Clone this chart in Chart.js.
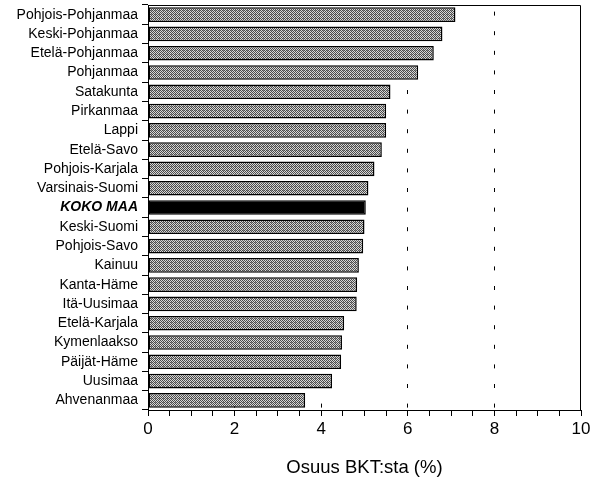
<!DOCTYPE html>
<html>
<head>
<meta charset="utf-8">
<script src="https://cdn.jsdelivr.net/npm/chart.js@4"></script>
<style>
  html, body { margin: 0; padding: 0; background: #fff; }
  canvas { display: block; }
</style>
</head>
<body>
<canvas id="bktChart" width="591" height="477"></canvas>
<script>
// regions, top to bottom
const regions = [
  "Pohjois-Pohjanmaa", "Keski-Pohjanmaa", "Etelä-Pohjanmaa", "Pohjanmaa",
  "Satakunta", "Pirkanmaa", "Lappi", "Etelä-Savo", "Pohjois-Karjala",
  "Varsinais-Suomi", "KOKO MAA", "Keski-Suomi", "Pohjois-Savo", "Kainuu",
  "Kanta-Häme", "Itä-Uusimaa", "Etelä-Karjala", "Kymenlaakso",
  "Päijät-Häme", "Uusimaa", "Ahvenanmaa"
];
// share of GDP, %
const shares = [
  7.1, 6.8, 6.6, 6.24, 5.6, 5.5, 5.5, 5.4, 5.23, 5.09, 5.03, 5.0, 4.97,
  4.87, 4.83, 4.82, 4.53, 4.48, 4.46, 4.25, 3.63
];
const xTicks = [0, 2, 4, 6, 8, 10];
const totalLabel = "KOKO MAA";

Chart.defaults.font.family = "'Liberation Sans', Arial, sans-serif";
Chart.defaults.color = "#000";

// dithered gray fill like the printed original
function makePattern() {
  const c = document.createElement("canvas");
  c.width = 4; c.height = 4;
  const g = c.getContext("2d");
  g.fillStyle = "#d8d8d8";
  g.fillRect(0, 0, 4, 4);
  g.fillStyle = "#4a4a4a";
  const dots = [[0,0],[2,0],[1,1],[3,1],[0,2],[2,2],[3,3],[1,3]];
  dots.forEach(([x, y]) => g.fillRect(x, y, 1, 1));
  g.fillStyle = "#888";
  g.fillRect(3, 2, 1, 1);
  return g.createPattern(c, "repeat");
}
const hatch = makePattern();

const frame = {
  id: "frame",
  afterDraw(chart) {
    const { ctx, chartArea } = chart;
    ctx.save();
    ctx.strokeStyle = "#000";
    ctx.lineWidth = 1;
    ctx.beginPath();
    ctx.moveTo(chartArea.left, chartArea.top + 0.5);
    ctx.lineTo(chartArea.right - 0.5, chartArea.top + 0.5);
    ctx.lineTo(chartArea.right - 0.5, chartArea.bottom);
    ctx.stroke();
    ctx.restore();
  }
};

const ctx = document.getElementById("bktChart").getContext("2d");
new Chart(ctx, {
  type: "bar",
  data: {
    labels: regions,
    datasets: [{
      data: shares,
      backgroundColor: regions.map((r) => (r === totalLabel ? "#000" : hatch)),
      borderColor: "#000",
      borderWidth: 1.5,
      borderSkipped: false,
      barPercentage: 0.76,
      categoryPercentage: 1.0
    }]
  },
  options: {
    indexAxis: "y",
    responsive: false,
    animation: false,
    layout: { padding: { top: 5, right: 10, bottom: 0, left: 0 } },
    plugins: { legend: { display: false }, tooltip: { enabled: false } },
    scales: {
      x: {
        min: 0,
        max: 10,
        afterFit: (scale) => {
          scale.height = 67;
          scale.paddingLeft = 0;
          scale.paddingRight = 0;
        },
        ticks: {
          stepSize: 0.5,
          autoSkip: false,
          maxRotation: 0,
          padding: 3,
          font: { size: 17 },
          callback: (v) => (xTicks.includes(v) ? v : "")
        },
        grid: {
          tickLength: 6,
          tickColor: "#000",
          lineWidth: 1,
          color: (c) => {
            const v = c.tick ? c.tick.value : null;
            return v === 2 || v === 4 || v === 6 || v === 8 ? "#000" : "rgba(0,0,0,0)";
          }
        },
        border: { display: true, color: "#000", width: 1, dash: [4, 15.6], dashOffset: 13 },
        title: {
          display: true,
          text: "Osuus BKT:sta (%)",
          font: { size: 18.5, lineHeight: 1.0 },
          padding: { top: 4, bottom: 0 }
        }
      },
      y: {
        afterFit: (scale) => {
          scale.width = 148;
          scale.paddingTop = 0;
          scale.paddingBottom = 0;
        },
        ticks: {
          padding: 4,
          autoSkip: false,
          font: (c) => (regions[c.index] === totalLabel
            ? { size: 14, weight: "bold", style: "italic" }
            : { size: 14 })
        },
        grid: { drawOnChartArea: false, tickLength: 6, tickColor: "#000" },
        border: { display: true, color: "#000", width: 1 }
      }
    }
  },
  plugins: [frame]
});
</script>
</body>
</html>
